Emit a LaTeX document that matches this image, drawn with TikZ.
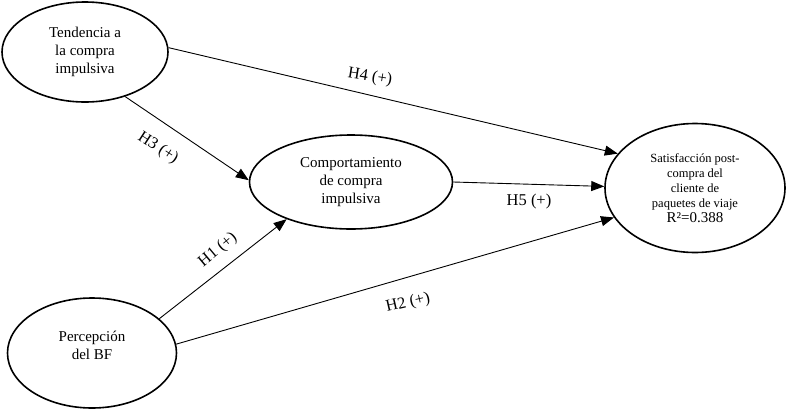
\documentclass[tikz,border=0pt]{standalone}
\usepackage{fontspec}
\setmainfont{Liberation Serif}
\usetikzlibrary{shapes.geometric,arrows.meta}
\begin{document}
\begin{tikzpicture}[x=1pt,y=-1pt,
  latent/.style={draw, ellipse, line width=1.6pt, inner sep=0pt, align=center,
    font=\fontsize{15}{18}\selectfont},
  hpath/.style={line width=0.9pt, -{Triangle[length=13pt,width=10pt]}},
  hyp/.style={font=\fontsize{16.5}{18}\selectfont, inner sep=0pt}]
\useasboundingbox (0,0) rectangle (787,410);
\node[latent, minimum width=166pt, minimum height=100pt] (A) at (85,52) {Tendencia a\\la compra\\impulsiva};
\node[latent, minimum width=203pt, minimum height=94pt] (B) at (351,182) {Comportamiento\\de compra\\impulsiva};
\node[latent, minimum width=180pt, minimum height=129pt, font=\fontsize{12.5}{15}\selectfont] (C) at (695,188) {Satisfacción post-\\compra del\\cliente de\\paquetes de viaje\\\fontsize{15}{15}\selectfont R²=0.388};
\node[latent, minimum width=169pt, minimum height=110pt,
  label={[align=center, font=\fontsize{15}{18}\selectfont, yshift=8pt]center:Percepción\\del BF}] (D) at (92,353) {};
\draw[hpath] (A.3) -- (C.156);
\draw[hpath] (A.-48) -- (B.179);
\draw[hpath] (B.0) -- (C.179);
\draw[hpath] (D.27) -- (B.210);
\draw[hpath] (D.6) -- (C.200);
\node[hyp, rotate=-9] (h4) at (370,77) {H4 (+)};
\node[hyp, rotate=-33] (h3) at (158,148) {H3 (+)};
\node[hyp] (h5) at (529,202) {H5 (+)};
\node[hyp, rotate=40] (h1) at (218,250) {H1 (+)};
\node[hyp, rotate=13] (h2) at (408,303) {H2 (+)};
\end{tikzpicture}
\end{document}
